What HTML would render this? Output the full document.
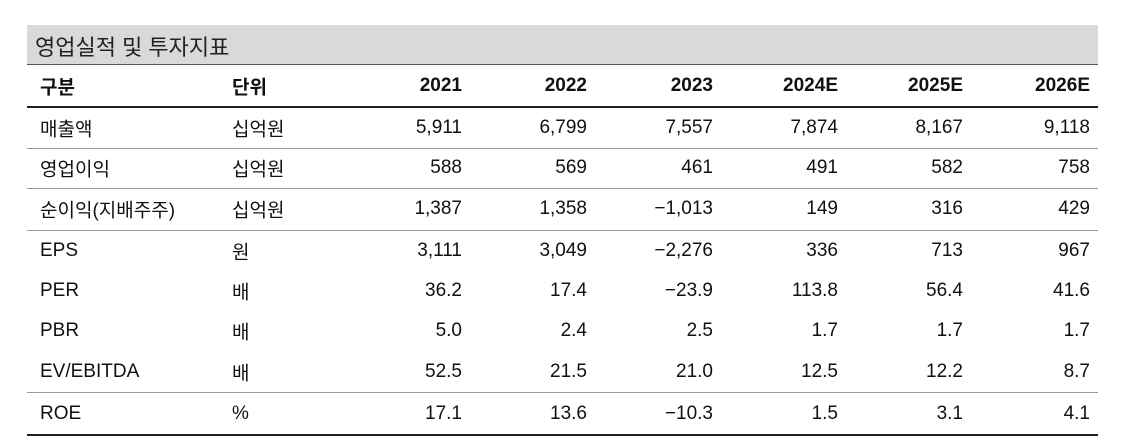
<!DOCTYPE html>
<html><head><meta charset="utf-8"><style>
body{margin:0;background:#fff;width:1121px;height:443px;position:relative;font-family:"Liberation Sans","Noto Sans CJK KR",sans-serif;color:#111;}
.bar{position:absolute;left:27px;top:25px;width:1071px;height:39px;background:#d9d9d9;border-bottom:1px solid #555;}
.bar span{position:absolute;left:8px;top:5px;font-size:22px;color:#222;}
.row{position:absolute;left:27px;width:1071px;font-size:19px;}
.row div{position:absolute;top:50%;transform:translateY(-50%);white-space:nowrap;}
.c0{left:13px}.c1{left:205px}
.r{text-align:right}
.line{position:absolute;left:27px;width:1071px;height:1px;background:#999}
.dark{background:#222;height:2px}
.h{font-weight:bold}
</style></head><body>
<div class="bar"><span>영업실적 및 투자지표</span></div>
<div id="t"></div>
<script>
var rows=[["구분","단위","2021","2022","2023","2024E","2025E","2026E"],
["매출액","십억원","5,911","6,799","7,557","7,874","8,167","9,118"],
["영업이익","십억원","588","569","461","491","582","758"],
["순이익(지배주주)","십억원","1,387","1,358","−1,013","149","316","429"],
["EPS","원","3,111","3,049","−2,276","336","713","967"],
["PER","배","36.2","17.4","−23.9","113.8","56.4","41.6"],
["PBR","배","5.0","2.4","2.5","1.7","1.7","1.7"],
["EV/EBITDA","배","52.5","21.5","21.0","12.5","12.2","8.7"],
["ROE","%","17.1","13.6","−10.3","1.5","3.1","4.1"]];
var tops=[65,107,148,188,230,271,311,351,392,435];
var rights=[462,587,713,838,963,1090];
var h='';
rows.forEach(function(r,i){
 var t=tops[i],hh=tops[i+1]-t;
 h+='<div class="row'+(i==0?' h':'')+'" style="top:'+t+'px;height:'+hh+'px">';
 h+='<div class="c0">'+r[0]+'</div><div class="c1">'+r[1]+'</div>';
 for(var j=2;j<8;j++)h+='<div style="right:'+(1098-rights[j-2])+'px">'+r[j]+'</div>';
 h+='</div>';
});
h+='<div class="line dark" style="top:106px"></div>';
[148,188,230,392].forEach(function(y){h+='<div class="line" style="top:'+y+'px"></div>';});
h+='<div class="line dark" style="top:434px"></div>';
document.getElementById('t').innerHTML=h;
</script>
</body></html>
